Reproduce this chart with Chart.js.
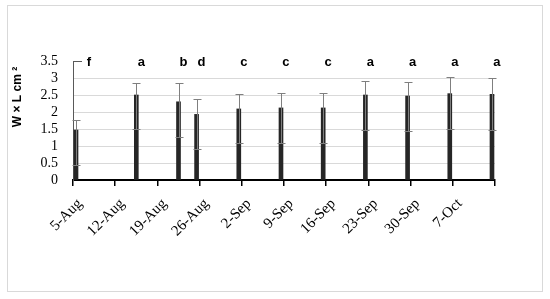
<!DOCTYPE html>
<html>
<head>
<meta charset="utf-8">
<script src="https://cdn.jsdelivr.net/npm/chart.js@4/dist/chart.umd.min.js"></script>
<style>
  body { margin: 0; background: #fff; }
</style>
</head>
<body>
<canvas id="chart" width="550" height="299"></canvas>
<script>
// days after 5-Aug on which the leaves were measured
const sampleDays = [0, 10, 17, 20, 27, 34, 41, 48, 55, 62, 69];
const meanArea = [1.47, 2.50, 2.30, 1.93, 2.09, 2.12, 2.12, 2.50, 2.47, 2.54, 2.52];
const errUpper = [1.76, 2.86, 2.84, 2.38, 2.54, 2.56, 2.55, 2.91, 2.88, 3.04, 3.00];
const errLower = [0.44, 1.49, 1.26, 0.92, 1.08, 1.10, 1.10, 1.48, 1.45, 1.51, 1.47];
const letters = ['f', 'a', 'b', 'd', 'c', 'c', 'c', 'a', 'a', 'a', 'a'];
const tickLabels = ['5-Aug', '12-Aug', '19-Aug', '26-Aug', '2-Sep', '9-Sep', '16-Sep', '23-Sep', '30-Sep', '7-Oct'];

// excel puts a day's column in the middle of the day
const xOf = d => d + 0.5;

const extras = {
  id: 'extras',
  beforeDraw(chart) {
    const ctx = chart.ctx;
    ctx.save();
    ctx.fillStyle = '#fff';
    ctx.fillRect(0, 0, chart.width, chart.height);
    ctx.strokeStyle = '#d9d9d9';
    ctx.lineWidth = 1;
    ctx.strokeRect(7.5, 5.5, 535, 286);
    ctx.restore();
  },
  afterDatasetsDraw(chart) {
    const ctx = chart.ctx;
    const xs = chart.scales.x, ys = chart.scales.y;
    ctx.save();
    ctx.strokeStyle = '#7f7f7f';
    ctx.lineWidth = 1;
    sampleDays.forEach((d, i) => {
      const x = Math.round(xs.getPixelForValue(xOf(d))) + 0.5;
      const yu = Math.round(ys.getPixelForValue(errUpper[i])) + 0.5;
      const yl = Math.round(ys.getPixelForValue(errLower[i])) + 0.5;
      ctx.beginPath();
      ctx.moveTo(x, yu); ctx.lineTo(x, yl);
      ctx.moveTo(x - 4, yu); ctx.lineTo(x + 4, yu);
      ctx.moveTo(x - 4, yl); ctx.lineTo(x + 4, yl);
      ctx.stroke();
    });
    // short tick at the top of the value axis
    const yTop = Math.round(ys.getPixelForValue(3.5)) + 0.5;
    ctx.strokeStyle = '#595959';
    ctx.beginPath();
    ctx.moveTo(xs.left, yTop); ctx.lineTo(xs.left + 9, yTop);
    ctx.stroke();

    // significance letters
    ctx.fillStyle = '#000';
    ctx.font = 'bold 13px "Liberation Sans"';
    ctx.textAlign = 'center';
    ctx.textBaseline = 'middle';
    sampleDays.forEach((d, i) => {
      const shift = i === 0 ? 13 : 5; // first label sits clear of the axis tick
      ctx.fillText(letters[i], xs.getPixelForValue(xOf(d)) + shift, yTop + 1);
    });

    // value axis title
    ctx.translate(18, 97);
    ctx.rotate(-Math.PI / 2);
    ctx.font = 'bold 12px "Liberation Sans"';
    ctx.fillText('W × L cm ²', 0, 0);
    ctx.restore();
  }
};

new Chart(document.getElementById('chart'), {
  type: 'bar',
  data: {
    datasets: [{
      data: sampleDays.map((d, i) => ({ x: xOf(d), y: meanArea[i] })),
      backgroundColor: '#262626',
      barThickness: 4
    }]
  },
  options: {
    responsive: false,
    animation: false,
    layout: { padding: { top: 61, right: 55, left: 0, bottom: 0 } },
    plugins: { legend: { display: false }, tooltip: { enabled: false } },
    scales: {
      x: {
        type: 'linear',
        offset: false,
        min: 0,
        max: 70,
        afterFit: s => { s.height = 119; },
        ticks: {
          stepSize: 7,
          autoSkip: false,
          minRotation: 45,
          maxRotation: 45,
          padding: 9,
          labelOffset: 7,
          color: '#000',
          font: { family: 'Liberation Serif', size: 15 },
          callback: (v, i) => tickLabels[i] || ''
        },
        grid: { offset: false, drawOnChartArea: false, tickLength: 6, color: '#000', lineWidth: 1.5 },
        border: { color: '#000', width: 2 }
      },
      y: {
        min: 0,
        max: 3.5,
        afterFit: s => { s.width = 73; },
        ticks: {
          stepSize: 0.5,
          autoSkip: false,
          padding: 15,
          color: '#000',
          font: { family: 'Liberation Serif', size: 14 },
          callback: v => String(v)
        },
        grid: {
          drawTicks: false,
          color: c => (c.tick.value === 0 || c.tick.value === 3.5) ? 'rgba(0,0,0,0)' : '#d9d9d9'
        },
        border: { color: '#595959', width: 1 }
      }
    }
  },
  plugins: [extras]
});
</script>
</body>
</html>
